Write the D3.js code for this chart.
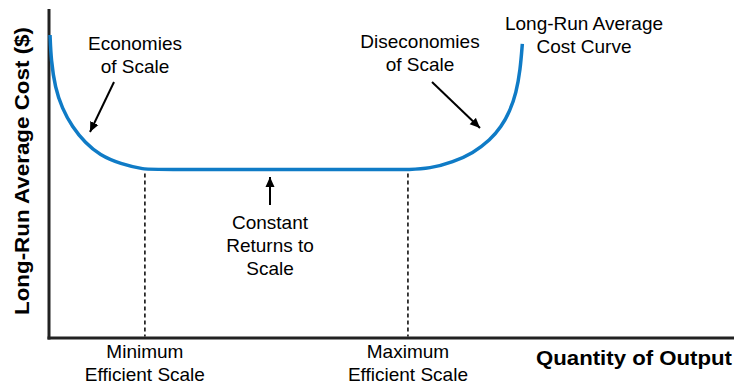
<!DOCTYPE html>
<html>
<head>
<meta charset="utf-8">
<script src="https://cdn.jsdelivr.net/npm/d3@7"></script>
<style>
  body { margin: 0; background: #fff; }
  svg { display: block; font-family: Arial, "Liberation Sans", sans-serif; }
</style>
</head>
<body>
<div id="chart"></div>
<script>
// long-run average cost curve (quantity 0-100, cost 0-100)
const quantity = [0.15, 0.3, 0.9, 1.9, 3.4, 5.3, 7.4, 10.4, 14.0, 15.5, 50.8, 52.3, 55.6, 59.0, 61.9, 64.4, 66.0, 67.3, 68.2, 68.8, 69.1];
const cost = [92.1, 84.5, 76.0, 69.9, 64.1, 59.3, 55.6, 52.9, 51.2, 51.2, 51.2, 51.2, 51.5, 53.5, 56.2, 60.2, 64.1, 69.0, 74.5, 81.5, 89.4];

const scaleMarks = [
  { q: 14.0, label: ["Minimum", "Efficient Scale"] },
  { q: 52.4, label: ["Maximum", "Efficient Scale"] }
];

const width = 734;
const height = 384;
const margin = { top: 9, right: 0, bottom: 46, left: 49 };

const svg = d3.select("#chart")
  .append("svg")
  .attr("width", width)
  .attr("height", height);

const x = d3.scaleLinear()
  .domain([0, 100])
  .range([margin.left, width - margin.right]);

const y = d3.scaleLinear()
  .domain([0, 100])
  .range([height - margin.bottom, margin.top]);

const defs = svg.append("defs");
defs.append("marker")
  .attr("id", "head")
  .attr("viewBox", "0 0 10 10")
  .attr("refX", 10)
  .attr("refY", 5)
  .attr("markerWidth", 10)
  .attr("markerHeight", 10)
  .attr("markerUnits", "userSpaceOnUse")
  .attr("orient", "auto")
  .append("path")
  .attr("d", "M0,0.5 L10,5 L0,9.5 Z")
  .attr("fill", "#000");

// axes
svg.append("line")
  .attr("x1", x(0)).attr("x2", x(0))
  .attr("y1", y(100)).attr("y2", y(0) + 1.5)
  .attr("stroke", "#222").attr("stroke-width", 3);

svg.append("line")
  .attr("x1", x(0) - 1.5).attr("x2", x(100))
  .attr("y1", y(0)).attr("y2", y(0))
  .attr("stroke", "#222").attr("stroke-width", 3);

// dashed guides
svg.selectAll(".guide")
  .data(scaleMarks)
  .join("line")
  .attr("class", "guide")
  .attr("x1", d => x(d.q)).attr("x2", d => x(d.q))
  .attr("y1", y(51.2) + 4).attr("y2", y(0) - 1.5)
  .attr("stroke", "#000")
  .attr("stroke-width", 1.5)
  .attr("stroke-dasharray", "4,3");

// curve
const points = quantity.map((q, i) => [q, cost[i]]);
const line = d3.line()
  .x(d => x(d[0]))
  .y(d => y(d[1]))
  .curve(d3.curveBasis);

svg.append("path")
  .datum(points)
  .attr("d", line)
  .attr("fill", "none")
  .attr("stroke", "#0f7bc6")
  .attr("stroke-width", 3.5);

// arrows
const arrows = [
  [114, 82, 90, 132],
  [432, 82, 480, 128],
  [270, 205, 270, 177]
];
svg.selectAll(".arrow")
  .data(arrows)
  .join("line")
  .attr("class", "arrow")
  .attr("x1", d => d[0]).attr("y1", d => d[1])
  .attr("x2", d => d[2]).attr("y2", d => d[3])
  .attr("stroke", "#000")
  .attr("stroke-width", 2)
  .attr("marker-end", "url(#head)");

// annotation text
function block(cx, baseline, lines, size) {
  const t = svg.append("text")
    .attr("x", cx)
    .attr("y", baseline)
    .attr("text-anchor", "middle")
    .attr("font-size", size)
    .attr("fill", "#000");
  lines.forEach((s, i) => {
    t.append("tspan")
      .attr("x", cx)
      .attr("dy", i === 0 ? 0 : 23)
      .text(s);
  });
  return t;
}

block(135, 50, ["Economies", "of Scale"], 19);
block(420, 48, ["Diseconomies", "of Scale"], 19);
block(584, 30, ["Long-Run Average", "Cost Curve"], 19);
block(270, 229, ["Constant", "Returns to", "Scale"], 19);

scaleMarks.forEach(m => block(x(m.q), 358, m.label, 19));

svg.append("text")
  .attr("x", 536)
  .attr("y", 365)
  .attr("font-size", 20)
  .attr("font-weight", "bold")
  .attr("fill", "#000")
  .attr("textLength", 196)
  .attr("lengthAdjust", "spacingAndGlyphs")
  .text("Quantity of Output");

svg.append("text")
  .attr("transform", "translate(29,315) rotate(-90)")
  .attr("font-size", 20)
  .attr("font-weight", "bold")
  .attr("fill", "#000")
  .attr("textLength", 288)
  .attr("lengthAdjust", "spacingAndGlyphs")
  .text("Long-Run Average Cost ($)");
</script>
</body>
</html>
